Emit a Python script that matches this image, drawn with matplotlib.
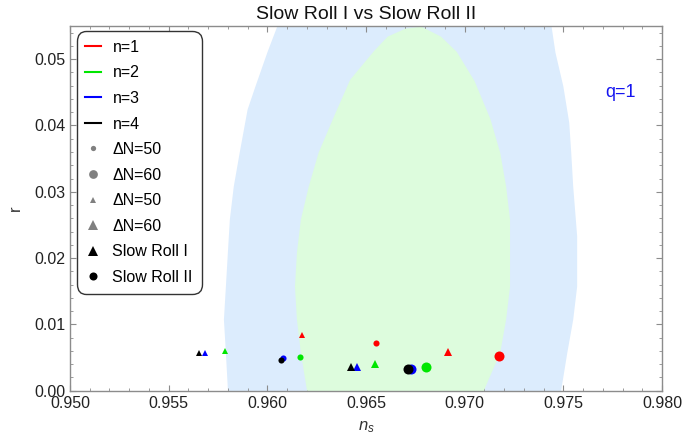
import matplotlib
matplotlib.use("Agg")
import matplotlib.pyplot as plt
from matplotlib.lines import Line2D
from matplotlib.ticker import MultipleLocator, FormatStrFormatter

plt.rcParams["font.family"] = ["Liberation Sans", "DejaVu Sans"]
plt.rcParams["mathtext.fontset"] = "custom"
plt.rcParams["mathtext.it"] = "Liberation Sans:italic"
plt.rcParams["mathtext.rm"] = "Liberation Sans"

# Colours for n = 1..4
N_COLORS = ["#FF0000", "#00E600", "#0000FF", "#000000"]
N_LABELS = ["n=1", "n=2", "n=3", "n=4"]

# Slow Roll I (triangles), n = 1..4
ns_sr1_50 = [0.96176, 0.95786, 0.95685, 0.95653]
r_sr1_50 = [0.0084, 0.0060, 0.0057, 0.0057]
ns_sr1_60 = [0.96916, 0.96546, 0.96453, 0.96425]
r_sr1_60 = [0.0058, 0.0040, 0.0036, 0.0036]

# Slow Roll II (circles), n = 1..4
ns_sr2_50 = [0.96552, 0.96167, 0.96077, 0.96069]
r_sr2_50 = [0.0072, 0.0051, 0.0049, 0.0047]
ns_sr2_60 = [0.97174, 0.96806, 0.96727, 0.96713]
r_sr2_60 = [0.0053, 0.0036, 0.0033, 0.0033]

# Planck-like confidence regions (outline)
blue_ns = [0.9607, 0.9605, 0.9600, 0.9594, 0.9590, 0.9586, 0.9583, 0.9581,
           0.9580, 0.9579, 0.9578, 0.9579, 0.9580, 0.9581,
           0.9748, 0.9749, 0.9752, 0.9755, 0.9757, 0.9757, 0.9755, 0.9754,
           0.9753, 0.9750, 0.9746, 0.9744, 0.9743]
blue_r = [0.0570, 0.0549, 0.0510, 0.0459, 0.0424, 0.0359, 0.0308, 0.0258,
          0.0208, 0.0157, 0.0107, 0.0057, 0.0002, -0.0020,
          -0.0020, 0.0002, 0.0057, 0.0107, 0.0157, 0.0233, 0.0308, 0.0359,
          0.0404, 0.0459, 0.0510, 0.0550, 0.0570]

green_ns = [0.9623, 0.9620, 0.9617, 0.9615, 0.9614, 0.9615, 0.9617, 0.9621,
            0.9626, 0.9634, 0.9642, 0.9654, 0.9661, 0.9670, 0.9678, 0.9688,
            0.9696, 0.9705, 0.9713, 0.9718, 0.9721, 0.9723, 0.9723, 0.9723,
            0.9721, 0.9718, 0.9710, 0.9708]
green_r = [-0.0020, 0.0002, 0.0057, 0.0107, 0.0157, 0.0208, 0.0258, 0.0308,
           0.0359, 0.0415, 0.0469, 0.0512, 0.0534, 0.0546, 0.0549, 0.0534,
           0.0511, 0.0467, 0.0410, 0.0359, 0.0308, 0.0258, 0.0208, 0.0157,
           0.0107, 0.0057, 0.0002, -0.0020]

BLUE_FILL = "#DCECFD"
GREEN_FILL = "#DDFCDD"
AXIS_GREY = "#8C8C8C"

fig = plt.figure(figsize=(6.84, 4.47), dpi=100, facecolor="white")
ax = fig.add_axes([70 / 684, 1 - 390.7 / 447, 592 / 684, 364.7 / 447])

ax.fill(blue_ns, blue_r, color=BLUE_FILL, lw=0, zorder=1)
ax.fill(green_ns, green_r, color=GREEN_FILL, lw=0, zorder=2)

for i in range(4):
    c = N_COLORS[i]
    ax.plot(ns_sr1_50[i], r_sr1_50[i], "^", color=c, ms=4.4, mew=0, zorder=5)
    ax.plot(ns_sr1_60[i], r_sr1_60[i], "^", color=c, ms=6.3, mew=0, zorder=5)
    ax.plot(ns_sr2_50[i], r_sr2_50[i], "o", color=c, ms=4.4, mew=0, zorder=5)
    ax.plot(ns_sr2_60[i], r_sr2_60[i], "o", color=c, ms=7.2, mew=0, zorder=5)

ax.set_xlim(0.950, 0.980)
ax.set_ylim(0.0, 0.055)
ax.xaxis.set_major_locator(MultipleLocator(0.005))
ax.xaxis.set_minor_locator(MultipleLocator(0.001))
ax.yaxis.set_major_locator(MultipleLocator(0.01))
ax.yaxis.set_minor_locator(MultipleLocator(0.002))
ax.xaxis.set_major_formatter(FormatStrFormatter("%.3f"))
ax.yaxis.set_major_formatter(FormatStrFormatter("%.2f"))
ax.tick_params(which="both", direction="in", top=True, right=True,
               color=AXIS_GREY, labelsize=11.5, labelcolor="#222222")
ax.tick_params(which="major", length=4, width=0.8)
ax.tick_params(which="minor", length=2.2, width=0.6)
ax.tick_params(axis="x", pad=4)
ax.tick_params(axis="y", pad=3.5)
for sp in ax.spines.values():
    sp.set_color(AXIS_GREY)
    sp.set_linewidth(1.0)

ax.set_title("Slow Roll I vs Slow Roll II", fontsize=14, color="#111111", pad=5)
ax.set_xlabel("$n_s$", fontsize=12, color="#333333", labelpad=6)
ax.set_ylabel("r", fontsize=12, color="#333333", labelpad=8)

ax.text(0.9779, 0.0449, "q=1", color="#1515F0", fontsize=13,
        ha="center", va="center")

handles = [Line2D([], [], color=c, lw=1.5) for c in N_COLORS]
handles += [
    Line2D([], [], ls="none", marker="o", color="#808080", ms=3.8, mew=0),
    Line2D([], [], ls="none", marker="o", color="#808080", ms=6.3, mew=0),
    Line2D([], [], ls="none", marker="^", color="#808080", ms=4.4, mew=0),
    Line2D([], [], ls="none", marker="^", color="#808080", ms=7.2, mew=0),
    Line2D([], [], ls="none", marker="^", color="black", ms=6.5, mew=0),
    Line2D([], [], ls="none", marker="o", color="black", ms=5.8, mew=0),
]
labels = N_LABELS + ["ΔN=50", "ΔN=60", "ΔN=50", "ΔN=60", "Slow Roll I", "Slow Roll II"]
leg = ax.legend(handles, labels, loc="upper left", bbox_to_anchor=(0.011, 0.986),
                borderaxespad=0, fontsize=11.5, handlelength=1.0, handletextpad=0.7,
                labelspacing=0.66, borderpad=0.55, frameon=True, fancybox=True,
                framealpha=1, edgecolor="#333333")
leg.get_frame().set_linewidth(1.0)
leg.get_frame().set_boxstyle("round,pad=0,rounding_size=0.6")
leg.set_zorder(10)

fig.savefig("out.png", dpi=100, facecolor="white")
